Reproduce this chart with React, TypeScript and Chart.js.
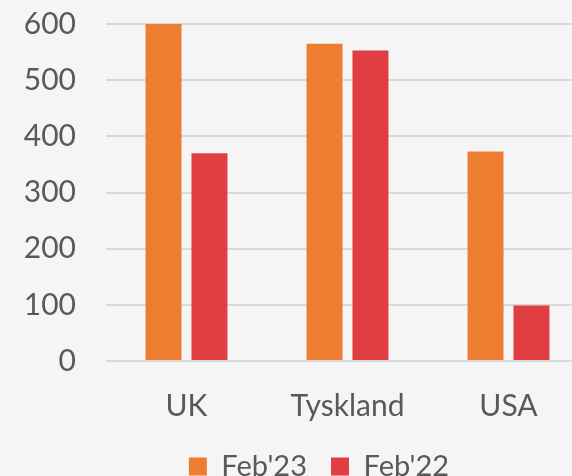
import React, { useEffect, useRef } from "react";
import { Chart, registerables } from "chart.js";

Chart.register(...registerables);

const categories = ["UK", "Tyskland", "USA"];
const seriesNames = ["Feb'23", "Feb'22"];
const feb23 = [601, 565, 373];
const feb22 = [370, 553, 99];
const yTicks = [0, 100, 200, 300, 400, 500, 600];

const FONT = "Lato, 'Open Sans', sans-serif";
const TEXT = "#595959";

const shiftLegend = {
  id: "shiftLegend",
  afterLayout(chart: any) {
    const lg = chart.legend;
    if (lg) {
      lg.left += 24.5;
      lg.right += 24.5;
    }
  },
};

export default function App() {
  const ref = useRef<HTMLCanvasElement | null>(null);

  useEffect(() => {
    document.body.style.margin = "0";
    document.body.style.background = "#f5f5f5";
    document.body.style.overflow = "hidden";
    const canvas = ref.current;
    if (!canvas) return;
    const chart = new Chart(canvas, {
      type: "bar",
      data: {
        labels: categories,
        datasets: [
          {
            label: seriesNames[0],
            data: feb23,
            backgroundColor: "#ED7D31",
            barPercentage: 0.783,
            categoryPercentage: 0.571,
          },
          {
            label: seriesNames[1],
            data: feb22,
            backgroundColor: "#E03E43",
            barPercentage: 0.783,
            categoryPercentage: 0.571,
          },
        ],
      },
      plugins: [shiftLegend],
      options: {
        responsive: false,
        animation: false,
        devicePixelRatio: 1,
        layout: { padding: { top: 24, right: 49, left: 0, bottom: -15 } },
        plugins: {
          tooltip: { enabled: false },
          legend: {
            position: "bottom",
            labels: {
              boxWidth: 18,
              boxHeight: 18,
              padding: 24,
              color: TEXT,
              font: { family: FONT, size: 29 },
            },
          },
        },
        scales: {
          x: {
            grid: { display: false, drawTicks: false },
            border: { display: false },
            afterFit: (scale: any) => {
              scale.height = 67;
            },
            ticks: {
              color: TEXT,
              font: { family: FONT, size: 30 },
              padding: 27,
            },
          },
          y: {
            min: 0,
            max: 600,
            afterBuildTicks: (scale: any) => {
              scale.ticks = yTicks.map((v) => ({ value: v }));
            },
            afterFit: (scale: any) => {
              scale.width = 106;
              scale.paddingTop = 0;
              scale.paddingBottom = 0;
            },
            grid: { color: "#d9d9d9", lineWidth: 2, drawTicks: false },
            border: { display: false },
            ticks: {
              color: TEXT,
              font: { family: FONT, size: 30 },
              padding: 30,
            },
          },
        },
      },
    });
    return () => chart.destroy();
  }, []);

  return (
    <div
      style={{
        position: "fixed",
        left: 0,
        top: 0,
        width: 572,
        height: 476,
        overflow: "hidden",
        background: "#f5f5f5",
      }}
    >
      <canvas ref={ref} width={638} height={476} style={{ display: "block" }} />
    </div>
  );
}
